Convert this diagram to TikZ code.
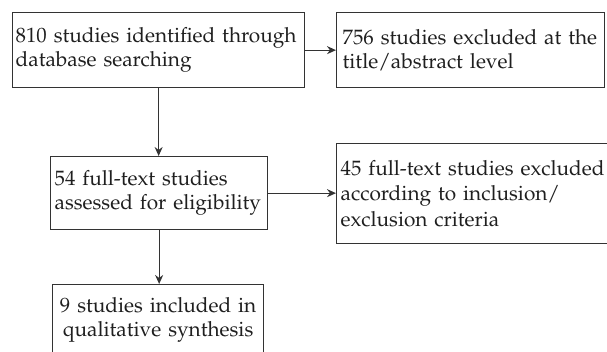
\documentclass[tikz,border=0pt]{standalone}
\usepackage[T1]{fontenc}
\usepackage{mathpazo}
\usetikzlibrary{arrows.meta}
\begin{document}
\begin{tikzpicture}[x=1pt,y=-1pt,
  box/.style={draw=black!80, line width=1.3pt, anchor=north west, inner xsep=3pt, inner ysep=0pt,
    align=left, font=\fontsize{20.8}{24.5}\selectfont, text=black!88},
  arr/.style={draw=black!80, line width=1.3pt, -{Stealth[length=9pt,width=8pt]}}]
\useasboundingbox (0,0) rectangle (607,351);
\clip (0,0) rectangle (607,351);
\node[box, minimum width=292pt, minimum height=75pt, text width=286pt] (a) at (12,12)
  {810 studies identified through\\database searching};
\node[box, inner xsep=6pt, minimum width=268pt, minimum height=75pt, text width=256pt] (b) at (336,12)
  {756 studies excluded at the\\title/abstract level};
\node[box, inner xsep=4pt, minimum width=217pt, minimum height=73pt, text width=209pt] (c) at (50,156)
  {54 full-text studies\\assessed for eligibility};
\node[box, inner xsep=4pt, minimum width=280pt, minimum height=100pt, text width=272pt,
  font=\fontsize{20.8}{25.5}\selectfont] (d) at (336,143)
  {45 full-text studies excluded\\according to inclusion/\\exclusion criteria};
\node[box, align=center, inner xsep=4pt, minimum width=211pt, minimum height=71pt, text width=203pt] (e) at (52,284)
  {9 studies included in\\qualitative synthesis};
\draw[arr] (a.east) -- (b.west);
\draw[arr] (a.south) -- (a.south |- c.north);
\draw[arr] (c.east) -- (c.east -| d.west);
\draw[arr] (c.south) -- (c.south |- e.north);
\end{tikzpicture}
\end{document}
